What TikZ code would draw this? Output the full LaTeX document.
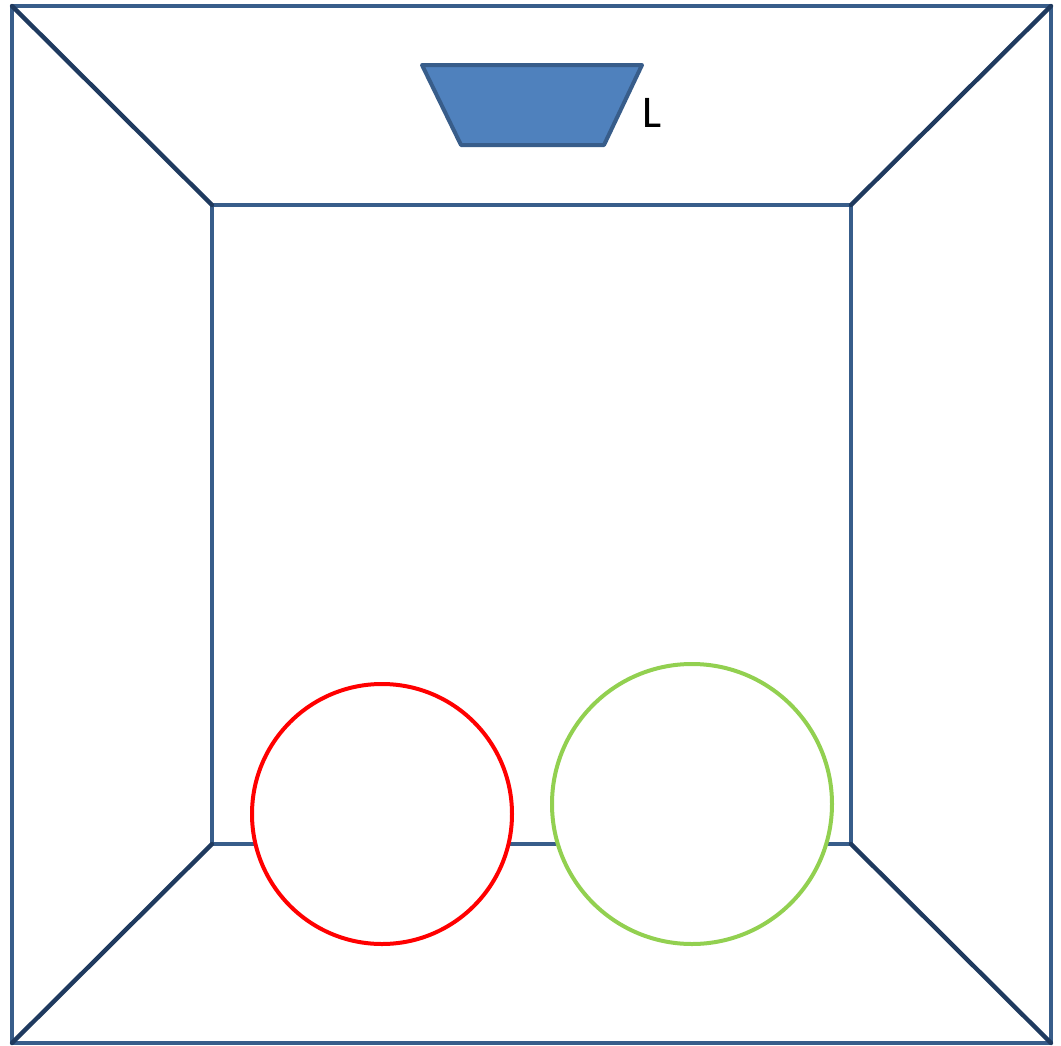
\documentclass[tikz,border=0pt]{standalone}
\usepackage{fontspec}
\setmainfont{Carlito}
\definecolor{edgeblue}{HTML}{385D8A}
\definecolor{diagblue}{HTML}{1F3A5F}
\definecolor{fillblue}{HTML}{4F81BD}
\definecolor{ringred}{HTML}{FF0000}
\definecolor{ringgreen}{HTML}{92D050}
\tikzset{
  wall/.style={draw=edgeblue, line width=2.6pt, line join=round},
  diag/.style={draw=diagblue, line width=3.3pt, line cap=round},
  ring/.style={line width=3pt, fill=white},
}
\begin{document}
\begin{tikzpicture}[x=0.75pt,y=-0.75pt]
\useasboundingbox (0,0) rectangle (1061,1046);
% outer and inner corners
\coordinate (OTL) at (12,6);
\coordinate (OTR) at (1051,6);
\coordinate (OBR) at (1051,1043);
\coordinate (OBL) at (12,1043);
\coordinate (ITL) at (212,205);
\coordinate (ITR) at (851,205);
\coordinate (IBR) at (851,844);
\coordinate (IBL) at (212,844);
\draw[wall] (OTL) -- (OTR) -- (OBR) -- (OBL) -- cycle;
\draw[wall] (ITL) -- (ITR) -- (IBR) -- (IBL) -- cycle;
\draw[diag] (OTL) -- (ITL);
\draw[diag] (OTR) -- (ITR);
\draw[diag] (OBR) -- (IBR);
\draw[diag] (OBL) -- (IBL);
% lamp
\draw[fill=fillblue, draw=edgeblue, line width=3pt, line join=round]
  (422,65) -- (642,65) -- (604,145) -- (461,145) -- cycle;
\node[font=\fontsize{34}{40}\selectfont, inner sep=0pt] (L) at (652,113) {L};
% balls
\draw[ring, draw=ringred] (382,814) circle[radius=130];
\draw[ring, draw=ringgreen] (692,804) circle[radius=140];
\end{tikzpicture}
\end{document}
